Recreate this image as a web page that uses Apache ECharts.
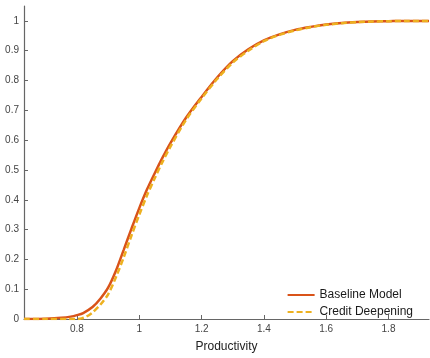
<!DOCTYPE html>
<html>
<head>
<meta charset="utf-8">
<script src="https://cdn.jsdelivr.net/npm/echarts@6/dist/echarts.min.js"></script>
<style>
  html, body { margin: 0; padding: 0; background: #fff; }
  #chart { width: 430px; height: 358px; }
</style>
</head>
<body>
<div id="chart"></div>
<script>
// productivity grid and cumulative shares
const xBaseline = [0.63, 0.65, 0.70, 0.75, 0.78, 0.80, 0.82, 0.85, 0.875, 0.90, 0.925, 0.95, 0.975, 1.00, 1.025, 1.05, 1.075, 1.10, 1.15, 1.20, 1.25, 1.30, 1.35, 1.40, 1.45, 1.50, 1.55, 1.60, 1.65, 1.70, 1.75, 1.80, 1.85, 1.93];
const yBaseline = [0, 0, 0.001, 0.004, 0.008, 0.013, 0.02, 0.04, 0.068, 0.105, 0.162, 0.232, 0.303, 0.372, 0.435, 0.49, 0.542, 0.59, 0.675, 0.745, 0.81, 0.865, 0.905, 0.935, 0.955, 0.97, 0.98, 0.988, 0.993, 0.996, 0.998, 0.999, 1.0, 1.0];

const xCredit = [0.63, 0.70, 0.78, 0.80, 0.815, 0.83, 0.85, 0.875, 0.90, 0.925, 0.95, 0.975, 1.00, 1.025, 1.05, 1.075, 1.10, 1.15, 1.20, 1.25, 1.30, 1.35, 1.40, 1.45, 1.50, 1.55, 1.60, 1.65, 1.70, 1.75, 1.80, 1.85, 1.93];
const yCredit = [0, 0, 0, 0, 0.002, 0.008, 0.022, 0.048, 0.083, 0.14, 0.207, 0.28, 0.35, 0.415, 0.473, 0.528, 0.578, 0.668, 0.74, 0.805, 0.86, 0.90, 0.932, 0.953, 0.968, 0.979, 0.987, 0.992, 0.996, 0.998, 0.999, 1.0, 1.0];

const xTicks = [0.8, 1, 1.2, 1.4, 1.6, 1.8];
const yTicks = [0, 0.1, 0.2, 0.3, 0.4, 0.5, 0.6, 0.7, 0.8, 0.9, 1];
const seriesNames = ['Baseline Model', 'Credit Deepening'];

function pairs(xs, ys) {
  return xs.map((x, i) => [x, ys[i]]);
}

const font = 'Liberation Sans, Arial, sans-serif';
const chart = echarts.init(document.getElementById('chart'));

chart.setOption({
  animation: false,
  grid: { left: 24, right: 1, top: 6, bottom: 31 },
  legend: {
    orient: 'vertical',
    right: 12,
    top: 284,
    itemWidth: 27,
    itemHeight: 12,
    itemGap: 5,
    itemStyle: { opacity: 0 },
    textStyle: { fontFamily: font, fontSize: 12, color: '#1a1a1a' },
    data: seriesNames
  },
  xAxis: {
    type: 'value',
    min: 0.63,
    max: 1.93,
    name: 'Productivity',
    nameLocation: 'middle',
    nameGap: 22,
    nameTextStyle: { fontFamily: font, fontSize: 12, color: '#222' },
    axisLine: { lineStyle: { color: '#666', width: 1.2 } },
    axisTick: { inside: true, length: 4, customValues: xTicks, lineStyle: { color: '#666' } },
    axisLabel: {
      customValues: xTicks,
      fontFamily: font, fontSize: 10, color: '#444', margin: 5,
      formatter: v => String(+v.toFixed(1))
    },
    splitLine: { show: false }
  },
  yAxis: {
    type: 'value',
    min: 0,
    max: 1.05,
    axisLine: { show: true, lineStyle: { color: '#666', width: 1.2 } },
    axisTick: { show: true, inside: true, length: 4, customValues: yTicks, lineStyle: { color: '#666' } },
    axisLabel: {
      customValues: yTicks,
      fontFamily: font, fontSize: 10, color: '#444', margin: 5,
      formatter: v => String(+v.toFixed(1))
    },
    splitLine: { show: false }
  },
  series: [
    {
      name: seriesNames[0],
      type: 'line',
      data: pairs(xBaseline, yBaseline),
      smooth: 0.3,
      symbol: 'none',
      lineStyle: { color: '#D95319', width: 2.5 },
      itemStyle: { color: '#D95319' }
    },
    {
      name: seriesNames[1],
      type: 'line',
      data: pairs(xCredit, yCredit),
      smooth: 0.3,
      symbol: 'none',
      lineStyle: { color: '#EDB120', width: 2.5, type: [6, 3] },
      itemStyle: { color: '#EDB120' }
    }
  ]
});
</script>
</body>
</html>
